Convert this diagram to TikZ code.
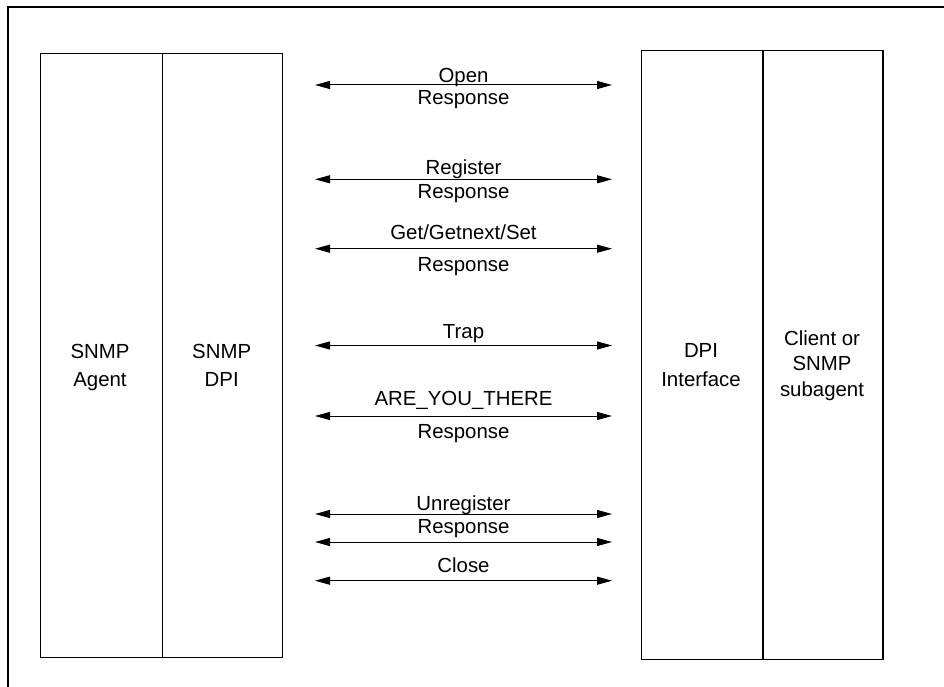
\documentclass[tikz,border=0pt]{standalone}
\usepackage{fontspec}
\setmainfont{Liberation Sans}
\usetikzlibrary{arrows.meta}
\begin{document}
\begin{tikzpicture}[x=1pt,y=-1pt,
  box/.style={draw=black, line width=1.3pt, inner sep=0pt, anchor=north west},
  lbl/.style={font=\fontsize{20.4}{24}\selectfont, anchor=base, inner sep=0pt},
  msg/.style={line width=1pt, {Triangle[length=15pt,width=8pt]}-{Triangle[length=15pt,width=8pt]}}]
\useasboundingbox (0,0) rectangle (944,687);
% partial outer frame
\draw[line width=1.8pt] (8,687) -- (8,7.3) -- (944,7.3);
% left boxes
\node[box, minimum width=122pt, minimum height=604pt] (agent) at (40,53) {};
\node[box, minimum width=119.7pt, minimum height=604pt] (sdpi) at (162,53) {};
% right boxes
\node[box, minimum width=121.6pt, minimum height=608.7pt] (dpii) at (640.7,50) {};
\node[box, minimum width=120pt, minimum height=608.7pt] (client) at (762.3,50) {};
% box labels
\node[lbl] (a1) at (100,358.3) {SNMP};
\node[lbl] (a2) at (100,386.7) {Agent};
\node[lbl] (s1) at (221.7,358.3) {SNMP};
\node[lbl] (s2) at (221.7,386.7) {DPI};
\node[lbl] (d1) at (701,357.3) {DPI};
\node[lbl] (d2) at (701,386) {Interface};
\node[lbl] (c1) at (822,345) {Client or};
\node[lbl] (c2) at (822,370) {SNMP};
\node[lbl] (c3) at (822,396.7) {subagent};
% arrow end points
\foreach \n/\y in {op/85, rg/179.3, gt/248.7, tr/345.5, ay/416, ur/514, ur2/542, cl/580.7}{
  \coordinate (\n L) at (315,\y);
  \coordinate (\n R) at (612,\y);
}
\draw[msg] (opL) -- (opR);
\draw[msg] (rgL) -- (rgR);
\draw[msg] (gtL) -- (gtR);
\draw[msg] (trL) -- (trR);
\draw[msg] (ayL) -- (ayR);
\draw[msg] (urL) -- (urR);
\draw[msg] (ur2L) -- (ur2R);
\draw[msg] (clL) -- (clR);
% message labels
\node[lbl] (t1) at (463.5,83) {Open};
\node[lbl] (t2) at (463.5,105) {Response};
\node[lbl] (t3) at (463.5,174.3) {Register};
\node[lbl] (t4) at (463.5,198.3) {Response};
\node[lbl] (t5) at (463.5,239.3) {Get/Getnext/Set};
\node[lbl] (t6) at (463.5,271.7) {Response};
\node[lbl] (t7) at (463.5,338.3) {Trap};
\node[lbl] (t8) at (463.5,405) {ARE\_YOU\_THERE};
\node[lbl] (t9) at (463.5,438.3) {Response};
\node[lbl] (t10) at (463.5,510) {Unregister};
\node[lbl] (t11) at (463.5,533.3) {Response};
\node[lbl] (t12) at (463.5,572.3) {Close};
\end{tikzpicture}
\end{document}
